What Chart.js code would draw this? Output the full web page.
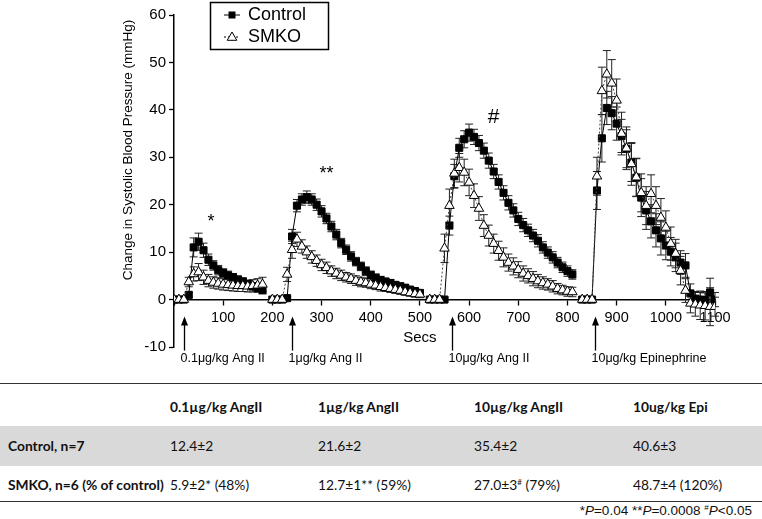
<!DOCTYPE html>
<html>
<head>
<meta charset="utf-8">
<script src="https://cdn.jsdelivr.net/npm/chart.js@4.4.1/dist/chart.umd.min.js"></script>
<style>
  body { margin: 0; background: #fff; width: 762px; height: 519px; overflow: hidden; position: relative; }
  #chart { position: absolute; left: 0; top: 0; }
  .rule { position: absolute; left: 0; width: 762px; height: 0; border-top: 1.6px solid #333; }
  .band { position: absolute; left: 0; width: 762px; background: #d9d9d9; }
  .cell { position: absolute; font-family: Lato, sans-serif; font-size: 13.8px; color: #111; white-space: nowrap; line-height: 16px; }
  .b { font-weight: bold; }
  .foot { position: absolute; right: 10px; font-family: "Liberation Sans", Arial, sans-serif; font-size: 13.5px; color: #111; line-height: 16px; }
  sup { font-size: 8px; line-height: 0; vertical-align: baseline; position: relative; top: -5px; }
</style>
</head>
<body>
<canvas id="chart" width="762" height="380"></canvas>
<div id="table"></div>
<script>
// time axis (secs), 10 s sampling; null = gap between injections
const secs = [];
for (let t = 0; t <= 1100; t += 10) secs.push(t);

const controlMean = [
  0, 0, 0, 1, 11, 12.2, 10.4, 8.4, 7.2, 6.2, 5.6, 5.1, 4.7, 4.2, 3.8, 3.3, 2.8, 2.4, 2.0,
  null,
  0, 0, 0, 0.3, 13.3, 19.8, 21.1, 21.6, 21.1, 20.0, 18.6, 17.1, 15.4, 13.7, 11.9, 10.5,
  9.1, 8.0, 7.0, 6.0, 5.2, 4.6, 4.1, 3.8, 3.5, 3.1, 2.8, 2.5, 2.1, 1.8, 1.4,
  null,
  0, 0, 0, 0, 15.6, 26, 32, 33.8, 35.2, 34.3, 33, 31.4, 29.3, 27, 24.8, 22.5, 20.4, 18.8,
  17, 15.7, 14.6, 13.5, 12.4, 11, 9.9, 8.9, 7.8, 6.8, 6, 5.3,
  null,
  0, 0, 0, 23, 34, 40.4, 39.3, 37.1, 34.5, 31.8, 28.9, 25.7, 21.5, 18.8, 16.5, 14.6, 12.9,
  11.4, 10.1, 8.9, 7.8, 7.2, 1.3, 0.2, 0, -0.1, 1.5, 0
];
const controlSem = [
  0, 0, 0, 0.5, 2, 1.8, 1.5, 1.2, 1, 1, 0.9, 0.9, 0.8, 0.8, 0.8, 0.8, 0.8, 0.8, 0.8,
  null,
  0, 0, 0, 0.3, 1.5, 1.3, 1.2, 1.3, 1.2, 1.2, 1.2, 1.1, 1.1, 1.1, 1, 1,
  1, 0.9, 0.9, 0.9, 0.8, 0.8, 0.8, 0.7, 0.7, 0.7, 0.7, 0.6, 0.6, 0.6, 0.6,
  null,
  0, 0, 0, 0.3, 2, 2.5, 2, 1.8, 1.8, 1.6, 1.6, 1.6, 1.6, 1.5, 1.5, 1.5, 1.5, 1.4,
  1.4, 1.4, 1.3, 1.3, 1.3, 1.2, 1.2, 1.2, 1.1, 1.1, 1.1, 1,
  null,
  0, 0, 0, 4, 5, 3.5, 3.5, 3.5, 3.5, 4, 4, 4, 4, 4, 3.5, 3.5, 3.5,
  3, 3, 3, 2.5, 2.5, 2, 1.5, 1.5, 1.5, 3, 1.5
];
const smkoMean = [
  0, 0, 0, 3.7, 5.4, 5.8, 4.7, 4.0, 3.6, 3.4, 3.2, 3.1, 3.0, 2.9, 2.9, 2.8, 2.9, 3.0, 3.2,
  null,
  0, 0, 0, 5.3, 10.5, 12.7, 11.2, 10.0, 9.0, 8.2, 7.3, 6.7, 6.0, 5.5, 5.1, 4.7,
  4.4, 4.0, 3.7, 3.5, 3.2, 3.0, 2.7, 2.5, 2.3, 2.1, 1.9, 1.6, 1.4, 1.2, 1.1,
  null,
  0, 0, 0, 10.8, 19.8, 26.6, 27.8, 26.8, 24.7, 21.9, 19.2, 15.6, 13.5, 11.8, 10.3, 8.9, 7.8, 7.0,
  6.3, 5.5, 5.0, 4.4, 3.9, 3.5, 3.2, 2.8, 2.3, 2.0, 1.7, 1.6,
  null,
  0, 0, 0, 26, 44, 47.5, 45.6, 42, 35, 31.9, 28.6, 25.8, 22.5, 19.8, 22.3, 19.8, 17.3,
  15.2, 11.8, 9.7, 6.1, 1.9, -0.8, -1, -1.2, -1.3, -1.5, -1.5
];
const smkoSem = [
  0, 0, 0, 1, 1.5, 1.8, 1.5, 1.3, 1.2, 1.2, 1.2, 1.2, 1.2, 1.2, 1.2, 1.2, 1.3, 1.4, 1.5,
  null,
  0, 0, 0, 1.5, 1.8, 1.5, 1.4, 1.3, 1.3, 1.2, 1.2, 1.2, 1.1, 1.1, 1.1, 1,
  1, 1, 1, 0.9, 0.9, 0.9, 0.9, 0.8, 0.8, 0.8, 0.8, 0.7, 0.7, 0.7, 0.7,
  null,
  0, 0, 0, 3, 3.5, 3, 3, 2.8, 2.8, 2.5, 2.5, 2.3, 2.2, 2, 2, 2, 1.8, 1.8,
  1.7, 1.6, 1.5, 1.5, 1.4, 1.3, 1.2, 1.2, 1.1, 1, 1, 1,
  null,
  0, 0, 0, 4, 5, 5, 5, 4.5, 4.5, 4.5, 4.5, 4, 4, 4, 4, 4, 4,
  3.5, 3.5, 3, 3, 2.5, 2, 2.5, 3, 3, 4, 2
];

// injections marked under the axis
const doseTimes = [20, 240, 565, 855];
const doseLabels = ['0.1\u03bcg/kg Ang II', '1\u03bcg/kg Ang II', '10\u03bcg/kg Ang II', '10\u03bcg/kg Epinephrine'];
// significance marks
const marks = [
  { x: 75, y: 17, text: '*', size: 18 },
  { x: 310, y: 27, text: '**', size: 18 },
  { x: 650, y: 39, text: '#', size: 21 }
];

// table
const tableHeaders = ['0.1\u00b5g/kg AngII', '1\u00b5g/kg AngII', '10\u00b5g/kg AngII', '10ug/kg Epi'];
const rowLabels = ['Control, n=7', 'SMKO, n=6 (% of control)'];
const controlRow = ['12.4\u00b12', '21.6\u00b12', '35.4\u00b12', '40.6\u00b13'];
const smkoRow = ['5.9\u00b12* (48%)', '12.7\u00b11** (59%)', '27.0\u00b13<sup>#</sup> (79%)', '48.7\u00b14 (120%)'];

const toPoints = arr => secs.map((t, i) => ({ x: t, y: arr[i] }));
const FONT = '"Liberation Sans", Arial, sans-serif';

const errorBars = {
  id: 'errorBars',
  beforeDatasetsDraw(chart) {
    const { ctx } = chart;
    const xs = chart.scales.x, ys = chart.scales.y;
    chart.data.datasets.slice().reverse().forEach(ds => {
      ctx.save();
      ctx.strokeStyle = '#222';
      ctx.lineWidth = 1;
      ds.data.forEach((p, i) => {
        const e = ds.sem[i];
        if (p.y == null || !e) return;
        const px = xs.getPixelForValue(p.x);
        const y1 = ys.getPixelForValue(p.y + e);
        const y2 = ys.getPixelForValue(p.y - e);
        ctx.beginPath();
        ctx.moveTo(px, y1); ctx.lineTo(px, y2);
        ctx.moveTo(px - 4, y1); ctx.lineTo(px + 4, y1);
        ctx.moveTo(px - 4, y2); ctx.lineTo(px + 4, y2);
        ctx.stroke();
      });
      ctx.restore();
    });
  }
};

const extras = {
  id: 'extras',
  afterDraw(chart) {
    const { ctx } = chart;
    const xs = chart.scales.x, ys = chart.scales.y;
    const y0 = ys.getPixelForValue(0);
    ctx.save();
    ctx.fillStyle = '#000';
    ctx.strokeStyle = '#000';

    // y title
    ctx.save();
    ctx.translate(128, 150);
    ctx.rotate(-Math.PI / 2);
    ctx.font = '13.5px ' + FONT;
    ctx.textAlign = 'center';
    ctx.textBaseline = 'middle';
    ctx.fillText('Change in Systolic Blood Pressure (mmHg)', 0, 0);
    ctx.restore();

    // x title
    ctx.font = '15px ' + FONT;
    ctx.textAlign = 'center';
    ctx.textBaseline = 'middle';
    ctx.fillText('Secs', xs.getPixelForValue(500), y0 + 38);

    // injection arrows
    ctx.font = '12.5px ' + FONT;
    ctx.textAlign = 'left';
    doseTimes.forEach((t, i) => {
      const px = Math.round(xs.getPixelForValue(t)) + 0.5;
      ctx.lineWidth = 1.3;
      ctx.beginPath();
      ctx.moveTo(px, y0 + 51);
      ctx.lineTo(px, y0 + 24);
      ctx.stroke();
      ctx.beginPath();
      ctx.moveTo(px, y0 + 17);
      ctx.lineTo(px - 3.5, y0 + 26);
      ctx.lineTo(px + 3.5, y0 + 26);
      ctx.closePath();
      ctx.fill();
      ctx.fillText(doseLabels[i], px - 4, y0 + 59);
    });

    // significance marks
    marks.forEach(m => {
      ctx.font = m.size + 'px ' + FONT;
      ctx.textAlign = 'center';
      ctx.fillText(m.text, xs.getPixelForValue(m.x), ys.getPixelForValue(m.y) + 3);
    });

    // legend
    ctx.lineWidth = 1.5;
    ctx.strokeRect(210.5, 2.5, 118, 47);
    ctx.font = '18px ' + FONT;
    ctx.textAlign = 'left';
    ctx.fillText('Control', 248, 15);
    ctx.fillText('SMKO', 248, 37);
    ctx.lineWidth = 1;
    ctx.beginPath(); ctx.moveTo(224, 15); ctx.lineTo(240, 15); ctx.stroke();
    ctx.fillRect(228.5, 11.5, 7, 7);
    ctx.setLineDash([2, 2]);
    ctx.beginPath(); ctx.moveTo(224, 37); ctx.lineTo(240, 37); ctx.stroke();
    ctx.setLineDash([]);
    ctx.beginPath();
    ctx.moveTo(232, 32); ctx.lineTo(236.8, 40.3); ctx.lineTo(227.2, 40.3); ctx.closePath();
    ctx.fillStyle = '#fff'; ctx.fill(); ctx.stroke();
    ctx.restore();
  }
};

new Chart(document.getElementById('chart'), {
  type: 'line',
  data: {
    datasets: [
      {
        label: 'Control',
        data: toPoints(controlMean),
        sem: controlSem,
        order: 2,
        borderColor: '#000',
        borderWidth: 1,
        pointStyle: 'rect',
        pointRadius: 5,
        pointBackgroundColor: '#000',
        pointBorderColor: '#000',
        pointBorderWidth: 1,
        spanGaps: false
      },
      {
        label: 'SMKO',
        data: toPoints(smkoMean),
        sem: smkoSem,
        order: 1,
        borderColor: '#444',
        borderWidth: 1,
        borderDash: [2, 2],
        pointStyle: 'triangle',
        pointRadius: 5.5,
        pointBackgroundColor: '#fff',
        pointBorderColor: '#000',
        pointBorderWidth: 1,
        spanGaps: false
      }
    ]
  },
  options: {
    responsive: false,
    animation: false,
    events: [],
    layout: { padding: { left: 0, right: 47, top: 15, bottom: 33 } },
    plugins: { legend: { display: false }, tooltip: { enabled: false } },
    scales: {
      x: {
        type: 'linear',
        position: { y: 0 },
        min: 0,
        max: 1100,
        border: { color: '#000', width: 1.5 },
        grid: { drawOnChartArea: false, drawTicks: true, tickLength: 5, color: '#000', tickWidth: 1.3 },
        ticks: {
          stepSize: 100,
          color: '#000',
          padding: 5,
          maxRotation: 0,
          font: { family: FONT, size: 14.5 },
          callback: v => (v === 0 ? '' : v)
        }
      },
      y: {
        min: -10,
        max: 60,
        afterFit: s => { s.width = 174; },
        border: { color: '#000', width: 1.5 },
        grid: { drawOnChartArea: false, drawTicks: true, tickLength: 5, color: '#000', tickWidth: 1.3 },
        ticks: { stepSize: 10, color: '#000', padding: 3, font: { family: FONT, size: 15 } }
      }
    }
  },
  plugins: [errorBars, extras]
});

// summary table under the plot
const tbl = document.getElementById('table');
const colX = [170, 318, 474, 633];
const add = (html, cls, x, y) => {
  const d = document.createElement('div');
  d.className = cls;
  d.style.left = x + 'px';
  d.style.top = y + 'px';
  d.innerHTML = html;
  tbl.appendChild(d);
  return d;
};
add('', 'rule', 0, 383);
add('', 'band', 0, 426).style.height = '40px';
add('', 'rule', 0, 501);
tableHeaders.forEach((h, i) => add(h, 'cell b', colX[i], 399));
add(rowLabels[0], 'cell b', 8, 438);
add(rowLabels[1], 'cell b', 8, 477);
controlRow.forEach((v, i) => add(v, 'cell', colX[i], 438));
smkoRow.forEach((v, i) => add(v, 'cell', colX[i], 477));
add('*<i>P</i>=0.04 **<i>P</i>=0.0008 <sup>#</sup><i>P</i>&lt;0.05', 'foot', 0, 503).style.left = 'auto';
</script>
</body>
</html>
